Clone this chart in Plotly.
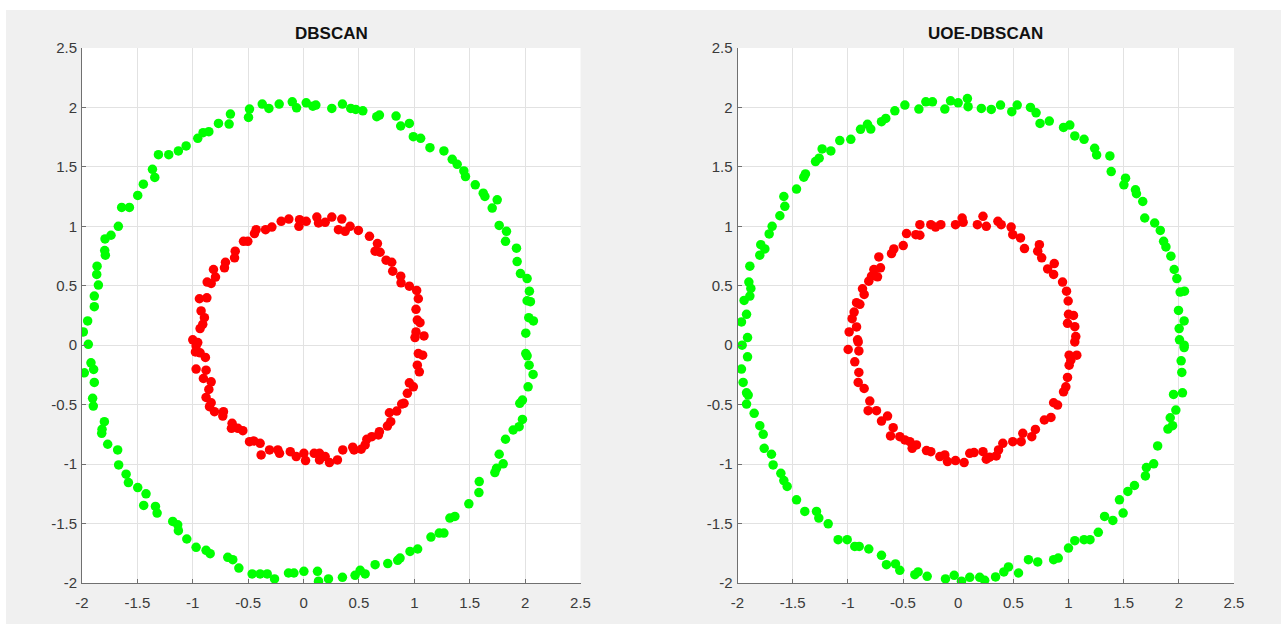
import plotly.graph_objects as go

# ---- DBSCAN result: outer ring (green cluster) ----
dbscan_outer_x = [
    -1.988, -1.949, -1.943, -1.889, -1.889, -1.852, -1.867, -1.864, -1.789, -1.795,
    -1.792, -1.738, -1.672, -1.642, -1.572, -1.497, -1.446, -1.343, -1.364, -1.310,
    -1.217, -1.130, -1.060, -0.955, -0.907, -0.855, -0.768, -0.672, -0.660, -0.497,
    -0.488, -0.373, -0.313, -0.220, -0.102, -0.063, 0.024,
    0.084, 0.111, 0.255, 0.351, 0.426, 0.471, 0.535, 0.661, 0.685, 0.835,
    0.877, 0.955, 0.991, 1.057, 1.141, 1.267, 1.342, 1.387, 1.447, 1.462,
    1.550, 1.622, 1.637, 1.748, 1.703, 1.766, 1.832, 1.823, 1.922, 1.928,
    1.958, 2.018, 2.039, 2.018, 2.048, 2.033, 2.075, 2.006,
    -1.979, -1.919, -1.895, -1.889, -1.904, -1.898, -1.798, -1.819, -1.822, -1.768,
    -1.678, -1.669, -1.602, -1.581, -1.497, -1.422, -1.443, -1.337, -1.322, -1.181,
    -1.136, -1.130, -1.054, -0.970, -0.880, -0.843, -0.684, -0.639, -0.584, -0.464,
    -0.392, -0.328, -0.262, -0.136, -0.087, 0.003,
    0.126, 0.135, 0.225, 0.351, 0.465, 0.511, 0.556, 0.646, 0.760, 0.850,
    0.871, 0.961, 1.030, 1.150, 1.225, 1.267, 1.321, 1.366, 1.492, 1.583,
    1.586, 1.727, 1.742, 1.766, 1.802, 1.823, 1.892, 1.946, 1.976, 1.952,
    1.976, 2.027, 2.072, 2.036, 2.006, 2.018,
]
dbscan_outer_y = [
    0.112, 0.204, 0.008, 0.324, 0.413, 0.506, 0.595, 0.665, 0.757, 0.796,
    0.894, 0.925, 1.000, 1.159, 1.159, 1.260, 1.355, 1.411, 1.480, 1.603,
    1.603, 1.634, 1.676, 1.740, 1.788, 1.796, 1.866, 1.860, 1.944, 1.916,
    1.986, 2.028, 1.992, 2.028, 2.047, 1.997, 2.039,
    2.011, 2.020, 1.992, 2.028, 1.992, 1.983, 1.972, 1.922, 1.936, 1.927,
    1.844, 1.866, 1.754, 1.740, 1.662, 1.634, 1.564, 1.522, 1.466, 1.419,
    1.349, 1.279, 1.251, 1.223, 1.154, 1.008, 0.958, 0.874, 0.816, 0.704,
    0.603, 0.561, 0.455, 0.374, 0.366, 0.232, 0.204, 0.101,
    -0.232, -0.148, -0.204, -0.313, -0.447, -0.512, -0.643, -0.707, -0.741, -0.833,
    -0.881, -1.007, -1.085, -1.155, -1.197, -1.250, -1.348, -1.356, -1.412, -1.482,
    -1.510, -1.560, -1.630, -1.700, -1.725, -1.753, -1.784, -1.804, -1.874, -1.924,
    -1.924, -1.924, -1.966, -1.916, -1.916, -1.902,
    -1.902, -1.985, -1.966, -1.952, -1.935, -1.893, -1.924, -1.846, -1.837, -1.809,
    -1.790, -1.734, -1.714, -1.614, -1.580, -1.580, -1.454, -1.440, -1.334, -1.239,
    -1.147, -1.071, -1.035, -0.917, -0.998, -0.791, -0.713, -0.685, -0.624, -0.489,
    -0.461, -0.350, -0.246, -0.168, -0.070, -0.089,
]

# ---- DBSCAN result: inner ring (red cluster) ----
dbscan_inner_x = [
    -1.000, -0.955, -0.970, -0.934, -0.910, -0.895, -0.925, -0.940, -0.873, -0.870,
    -0.834, -0.795, -0.813, -0.714, -0.705, -0.623, -0.617, -0.542, -0.503, -0.443,
    -0.428, -0.343, -0.286, -0.202, -0.133, -0.042, -0.036, 0.024,
    0.120, 0.135, 0.195, 0.255, 0.345, 0.315, 0.375, 0.420, 0.495, 0.595,
    0.667, 0.646, 0.691, 0.745, 0.796, 0.805, 0.877, 0.880, 0.955, 1.021,
    1.036, 1.015, 1.027, 1.051, 1.015, 1.087, 1.006,
    -0.976, -0.934, -0.886, -0.970, -0.880, -0.904, -0.834, -0.855, -0.880, -0.834,
    -0.849, -0.804, -0.723, -0.729, -0.645, -0.651, -0.593, -0.548, -0.488, -0.449,
    -0.392, -0.383, -0.307, -0.232, -0.217, -0.120, -0.066, 0.003, 0.018,
    1.036, 1.075, 1.027, 1.045, 0.955, 0.991, 0.937, 0.907, 0.886, 0.841,
    0.775, 0.787, 0.757, 0.685, 0.676, 0.616, 0.571, 0.556, 0.520, 0.444,
    0.456, 0.354, 0.306, 0.234, 0.195, 0.144, 0.096, 0.144,
]
dbscan_inner_y = [
    0.045, 0.022, -0.006, 0.140, 0.176, 0.232, 0.288, 0.391, 0.399, 0.531,
    0.520, 0.573, 0.637, 0.651, 0.698, 0.735, 0.791, 0.874, 0.874, 0.939,
    0.972, 0.972, 0.994, 1.042, 1.061, 1.000, 1.056, 1.042,
    1.078, 1.028, 1.034, 1.078, 1.061, 0.972, 0.958, 1.000, 0.966, 0.916,
    0.855, 0.791, 0.782, 0.715, 0.698, 0.623, 0.581, 0.525, 0.497, 0.461,
    0.391, 0.302, 0.212, 0.190, 0.112, 0.078, 0.064,
    -0.056, -0.064, -0.103, -0.201, -0.210, -0.280, -0.308, -0.372, -0.439, -0.484,
    -0.517, -0.559, -0.559, -0.596, -0.657, -0.699, -0.699, -0.719, -0.811, -0.805,
    -0.825, -0.923, -0.881, -0.881, -0.909, -0.895, -0.937, -0.909, -0.970,
    -0.070, -0.084, -0.168, -0.224, -0.316, -0.350, -0.405, -0.489, -0.495, -0.554,
    -0.568, -0.643, -0.680, -0.727, -0.755, -0.769, -0.791, -0.839, -0.875, -0.858,
    -0.881, -0.881, -0.965, -0.987, -0.937, -0.909, -0.909, -0.965,
]

# ---- UOE-DBSCAN result: outer ring (green cluster) ----
uoe_outer_x = [
    -1.964, -1.918, -1.940, -1.888, -1.879, -1.897, -1.888, -1.909, -1.958, -1.798,
    -1.789, -1.752, -1.713, -1.686, -1.616, -1.571, -1.580, -1.465, -1.399, -1.384,
    -1.293, -1.260, -1.233, -1.154, -1.073, -0.973, -0.885, -0.822, -0.792, -0.695,
    -0.656, -0.574, -0.483, -0.356, -0.293, -0.233, -0.121, -0.069, 0.000, 0.090,
    0.084, 0.210, 0.300, 0.384, 0.486, 0.535, 0.655, 0.706, 0.742, 0.826,
    0.955, 1.012, 1.057, 1.141, 1.237, 1.255, 1.375, 1.387, 1.517, 1.502,
    1.607, 1.616, 1.673, 1.691, 1.781, 1.832, 1.862, 1.883, 1.928, 1.958,
    1.982, 2.012, 2.051, 1.997, 2.048, 2.003, 2.006, 2.048,
    -1.909, -1.964, -1.949, -1.918, -1.903, -1.918, -1.849, -1.798, -1.767, -1.758,
    -1.692, -1.677, -1.607, -1.580, -1.550, -1.465, -1.390, -1.284, -1.263, -1.178,
    -1.088, -1.006, -0.937, -0.897, -0.810, -0.695, -0.650, -0.568, -0.529, -0.393,
    -0.363, -0.281, -0.115, -0.036, 0.030,
    0.105, 0.195, 0.240, 0.339, 0.414, 0.456, 0.547, 0.637, 0.721, 0.865,
    0.907, 1.000, 1.057, 1.141, 1.195, 1.270, 1.327, 1.402, 1.495, 1.462,
    1.538, 1.598, 1.697, 1.706, 1.772, 1.808, 1.901, 1.943, 1.922, 1.973,
    1.952, 2.033, 2.027, 2.021, 2.048,
]
uoe_outer_y = [
    0.196, 0.260, 0.377, 0.413, 0.478, 0.531, 0.665, 0.064, 0.000, 0.757,
    0.846, 0.810, 0.936, 1.000, 1.089, 1.168, 1.251, 1.313, 1.413, 1.441,
    1.545, 1.573, 1.651, 1.634, 1.721, 1.732, 1.816, 1.858, 1.818, 1.880,
    1.908, 1.972, 2.020, 1.986, 2.047, 2.047, 1.986, 2.056, 2.039, 2.006,
    2.075, 1.992, 1.983, 2.020, 1.964, 2.020, 2.000, 1.955, 1.866, 1.885,
    1.832, 1.852, 1.760, 1.732, 1.656, 1.601, 1.592, 1.461, 1.405, 1.349,
    1.307, 1.274, 1.209, 1.070, 1.028, 0.966, 0.874, 0.827, 0.749, 0.637,
    0.561, 0.447, 0.455, 0.293, 0.204, 0.140, 0.045, 0.000,
    -0.098, -0.201, -0.313, -0.400, -0.419, -0.495, -0.573, -0.677, -0.749, -0.867,
    -0.917, -1.007, -1.077, -1.138, -1.188, -1.300, -1.398, -1.398, -1.454, -1.502,
    -1.636, -1.636, -1.692, -1.692, -1.714, -1.767, -1.846, -1.840, -1.893, -1.930,
    -1.907, -1.944, -1.966, -1.935, -1.985,
    -1.952, -1.952, -1.977, -1.949, -1.907, -1.865, -1.916, -1.804, -1.823, -1.804,
    -1.790, -1.706, -1.644, -1.636, -1.636, -1.574, -1.440, -1.474, -1.412, -1.300,
    -1.230, -1.180, -1.099, -1.029, -0.998, -0.847, -0.705, -0.677, -0.610, -0.545,
    -0.414, -0.400, -0.229, -0.131, -0.020,
]

# ---- UOE-DBSCAN result: inner ring (red cluster) ----
uoe_inner_x = [
    -0.912, -0.988, -0.921, -0.961, -0.943, -0.891, -0.921, -0.852, -0.867, -0.810,
    -0.785, -0.731, -0.764, -0.704, -0.719, -0.604, -0.583, -0.498, -0.468, -0.384,
    -0.347, -0.347, -0.248, -0.205, -0.157, -0.024, 0.036,
    0.045, 0.174, 0.225, 0.255, 0.360, 0.390, 0.480, 0.495, 0.565, 0.601,
    0.736, 0.721, 0.757, 0.811, 0.871, 0.865, 0.946, 0.982, 0.997, 1.000,
    1.045, 0.991, 1.057, 1.066,
    -0.997, -0.906, -0.900, -0.937, -0.900, -0.906, -0.852, -0.801, -0.816, -0.740,
    -0.695, -0.640, -0.589, -0.613, -0.529, -0.483, -0.438, -0.417, -0.378, -0.287,
    -0.248, -0.166, -0.121, -0.097, -0.024, 0.054,
    0.105, 0.144, 0.225, 0.255, 0.285, 0.345, 0.366, 0.405, 0.495, 0.571,
    0.586, 0.667, 0.700, 0.781, 0.841, 0.865, 0.901, 0.955, 0.976, 0.991,
    1.006, 1.021, 1.075, 1.006, 1.057,
]
uoe_inner_y = [
    0.045, 0.112, 0.154, 0.223, 0.279, 0.344, 0.358, 0.427, 0.475, 0.539,
    0.581, 0.575, 0.637, 0.651, 0.743, 0.771, 0.810, 0.838, 0.939, 0.930,
    0.925, 1.014, 1.014, 0.994, 1.014, 1.014, 1.070,
    1.034, 1.014, 1.084, 1.000, 1.042, 1.014, 0.994, 0.930, 0.902, 0.813,
    0.846, 0.791, 0.735, 0.642, 0.687, 0.595, 0.531, 0.455, 0.372, 0.260,
    0.251, 0.184, 0.156, 0.073,
    -0.036, 0.028, -0.048, -0.140, -0.229, -0.313, -0.364, -0.470, -0.551, -0.551,
    -0.638, -0.596, -0.694, -0.763, -0.769, -0.797, -0.811, -0.867, -0.839, -0.886,
    -0.895, -0.937, -0.923, -0.979, -0.970, -0.987,
    -0.909, -0.903, -0.895, -0.959, -0.942, -0.931, -0.881, -0.825, -0.811, -0.811,
    -0.741, -0.769, -0.708, -0.629, -0.607, -0.484, -0.503, -0.392, -0.350, -0.271,
    -0.168, -0.126, -0.084, -0.084, 0.028,
]

panel_titles = ["DBSCAN", "UOE-DBSCAN"]
tick_vals = [-2, -1.5, -1, -0.5, 0, 0.5, 1, 1.5, 2, 2.5]
tick_text = ["-2", "-1.5", "-1", "-0.5", "0", "0.5", "1", "1.5", "2", "2.5"]

GREEN = "#00ff00"
RED = "#ff0000"
MARKER_SIZE = 9.5

W, H = 1281, 624
ML, MR, MT, MB = 82, 47, 48, 41
plot_w = W - ML - MR
plot_h = H - MT - MB

fig = go.Figure()

panels = [
    ("x", "y", dbscan_outer_x, dbscan_outer_y, dbscan_inner_x, dbscan_inner_y),
    ("x2", "y2", uoe_outer_x, uoe_outer_y, uoe_inner_x, uoe_inner_y),
]
for xa, ya, ox, oy, ix, iy in panels:
    fig.add_trace(go.Scatter(x=ox, y=oy, mode="markers", xaxis=xa, yaxis=ya,
                             marker=dict(color=GREEN, size=MARKER_SIZE, line=dict(width=0)),
                             showlegend=False, hoverinfo="skip"))
    fig.add_trace(go.Scatter(x=ix, y=iy, mode="markers", xaxis=xa, yaxis=ya,
                             marker=dict(color=RED, size=MARKER_SIZE, line=dict(width=0)),
                             showlegend=False, hoverinfo="skip"))

axis_font = dict(family="Liberation Sans, Arial, sans-serif", size=15, color="#3a3a3a")


def axis_style(domain, anchor, standoff):
    return dict(
        domain=domain, anchor=anchor, range=[-2, 2.5], autorange=False,
        tickmode="array", tickvals=tick_vals, ticktext=tick_text,
        showgrid=True, gridcolor="#e2e2e2", gridwidth=1, zeroline=False,
        showline=True, linecolor="#707070", linewidth=1, mirror=False,
        ticks="inside", ticklen=4, tickcolor="#707070", tickwidth=1,
        tickfont=axis_font, ticklabelstandoff=standoff, fixedrange=True,
    )


left_dom = [0.0, (580.5 - ML) / plot_w]
right_dom = [(737.5 - ML) / plot_w, 1.0]

fig.update_layout(
    width=W, height=H,
    margin=dict(l=ML, r=MR, t=MT, b=MB, pad=0),
    paper_bgcolor="#f0f0f0", plot_bgcolor="#ffffff",
    xaxis=axis_style(left_dom, "y", 6),
    yaxis=axis_style([0, 1], "x", 1),
    xaxis2=axis_style(right_dom, "y2", 6),
    yaxis2=axis_style([0, 1], "x2", 1),
)

# panel titles
title_y = (H - MB - 33) / plot_h
for dom, txt in zip([left_dom, right_dom], panel_titles):
    fig.add_annotation(
        x=(dom[0] + dom[1]) / 2, y=title_y, xref="paper", yref="paper",
        text=f"<b>{txt}</b>", showarrow=False, xanchor="center", yanchor="middle",
        font=dict(family="Liberation Sans, Arial, sans-serif", size=17, color="#111111"),
    )

# thin white frame at the top and left of the figure
fig.add_shape(type="rect", xref="paper", yref="paper", layer="above",
              x0=-0.2, x1=1.2, y0=(H - MB - 10) / plot_h, y1=1.3,
              fillcolor="#ffffff", line=dict(width=0))
fig.add_shape(type="rect", xref="paper", yref="paper", layer="above",
              x0=-0.2, x1=(6 - ML) / plot_w, y0=-0.2, y1=1.3,
              fillcolor="#ffffff", line=dict(width=0))

fig.write_html("out.html")
